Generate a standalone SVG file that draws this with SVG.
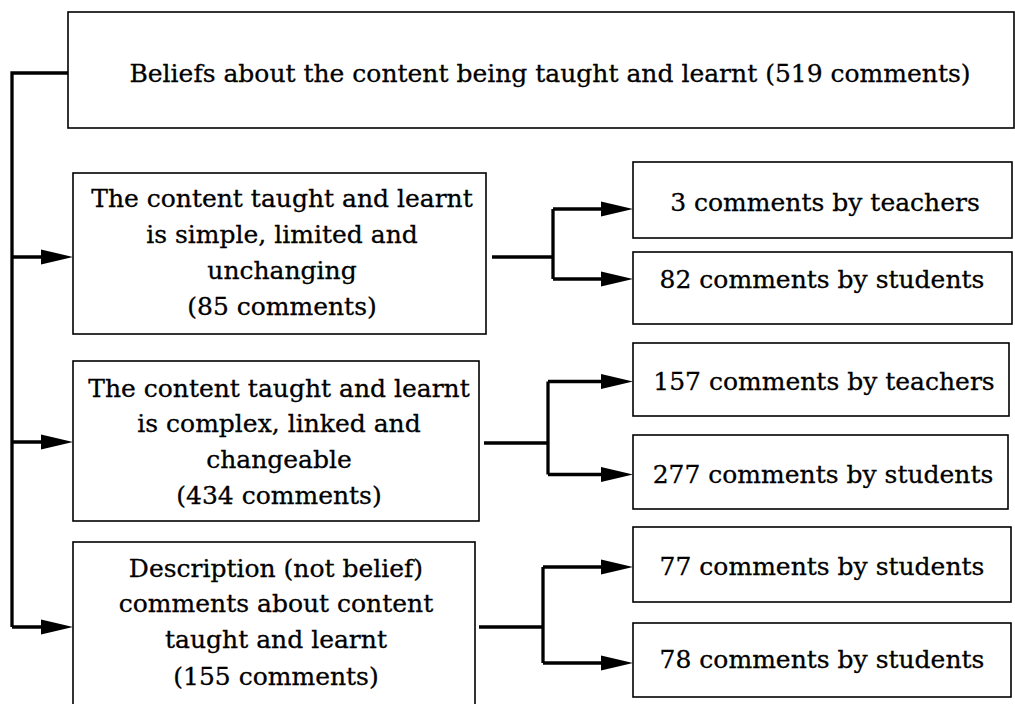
<svg xmlns="http://www.w3.org/2000/svg" width="1015" height="704" viewBox="0 0 1015 704">
  <style>
    .box { fill: #ffffff; stroke: #000000; stroke-width: 1.6; }
    .lbl { font-family: "DejaVu Serif", "Liberation Serif", serif; font-size: 25px; fill: #000000; stroke: #000000; stroke-width: 0.3; text-anchor: middle; }
    .wire { fill: none; stroke: #000000; stroke-width: 3.3; stroke-linejoin: miter; stroke-linecap: butt; }
  </style>
  <defs>
    <marker id="head" markerUnits="userSpaceOnUse" markerWidth="32" markerHeight="15" refX="22" refY="7.5" orient="auto" overflow="visible">
      <path d="M0,0 L32,7.5 L0,15 Z" fill="#000000"/>
    </marker>
  </defs>

  <rect width="1015" height="704" fill="#ffffff"/>

  <!-- connectors -->
  <g id="connectors">
    <!-- spine from the root box down the left side -->
    <path class="wire" d="M68,73 H12 V627"/>
    <path class="wire" d="M12,257 H63" marker-end="url(#head)"/>
    <path class="wire" d="M12,442 H63" marker-end="url(#head)"/>
    <path class="wire" d="M12,627 H63" marker-end="url(#head)"/>

    <!-- simple / limited branch -->
    <path class="wire" d="M492,257 H553"/>
    <path class="wire" d="M553,209 V279"/>
    <path class="wire" d="M553,209 H623" marker-end="url(#head)"/>
    <path class="wire" d="M553,279 H623" marker-end="url(#head)"/>

    <!-- complex / linked branch -->
    <path class="wire" d="M484,443 H548"/>
    <path class="wire" d="M548,381.5 V474.5"/>
    <path class="wire" d="M548,381.5 H623" marker-end="url(#head)"/>
    <path class="wire" d="M548,474.5 H623" marker-end="url(#head)"/>

    <!-- description branch -->
    <path class="wire" d="M479,627 H543"/>
    <path class="wire" d="M543,567 V663"/>
    <path class="wire" d="M543,567 H623" marker-end="url(#head)"/>
    <path class="wire" d="M543,663 H623" marker-end="url(#head)"/>
  </g>

  <g id="root">
    <rect class="box" x="68" y="12" width="946" height="116"/>
    <text class="lbl" x="550" y="82" font-size="24.7">Beliefs about the content being taught and learnt (519 comments)</text>
  </g>

  <g id="simple">
    <rect class="box" x="73" y="173" width="413" height="161"/>
    <text class="lbl" x="282" y="207">The content taught and learnt</text>
    <text class="lbl" x="282" y="243">is simple, limited and</text>
    <text class="lbl" x="282" y="279">unchanging</text>
    <text class="lbl" x="282" y="315">(85 comments)</text>
  </g>

  <g id="complex">
    <rect class="box" x="73" y="361" width="406" height="160"/>
    <text class="lbl" x="279" y="397">The content taught and learnt</text>
    <text class="lbl" x="279" y="432">is complex, linked and</text>
    <text class="lbl" x="279" y="468">changeable</text>
    <text class="lbl" x="279" y="504">(434 comments)</text>
  </g>

  <g id="description">
    <rect class="box" x="73" y="542" width="402" height="170"/>
    <text class="lbl" x="276" y="577">Description (not belief)</text>
    <text class="lbl" x="276" y="612">comments about content</text>
    <text class="lbl" x="276" y="648">taught and learnt</text>
    <text class="lbl" x="276" y="685">(155 comments)</text>
  </g>

  <g id="simple-teachers">
    <rect class="box" x="633" y="162" width="379" height="76"/>
    <text class="lbl" x="825" y="211">3 comments by teachers</text>
  </g>
  <g id="simple-students">
    <rect class="box" x="633" y="252" width="379" height="72"/>
    <text class="lbl" x="822" y="288">82 comments by students</text>
  </g>
  <g id="complex-teachers">
    <rect class="box" x="633" y="343" width="376" height="73"/>
    <text class="lbl" x="824" y="390">157 comments by teachers</text>
  </g>
  <g id="complex-students">
    <rect class="box" x="633" y="435" width="375" height="74"/>
    <text class="lbl" x="823" y="483">277 comments by students</text>
  </g>
  <g id="description-students-a">
    <rect class="box" x="633" y="527" width="378" height="75"/>
    <text class="lbl" x="822" y="575">77 comments by students</text>
  </g>
  <g id="description-students-b">
    <rect class="box" x="633" y="623" width="378" height="74"/>
    <text class="lbl" x="822" y="668">78 comments by students</text>
  </g>
</svg>
